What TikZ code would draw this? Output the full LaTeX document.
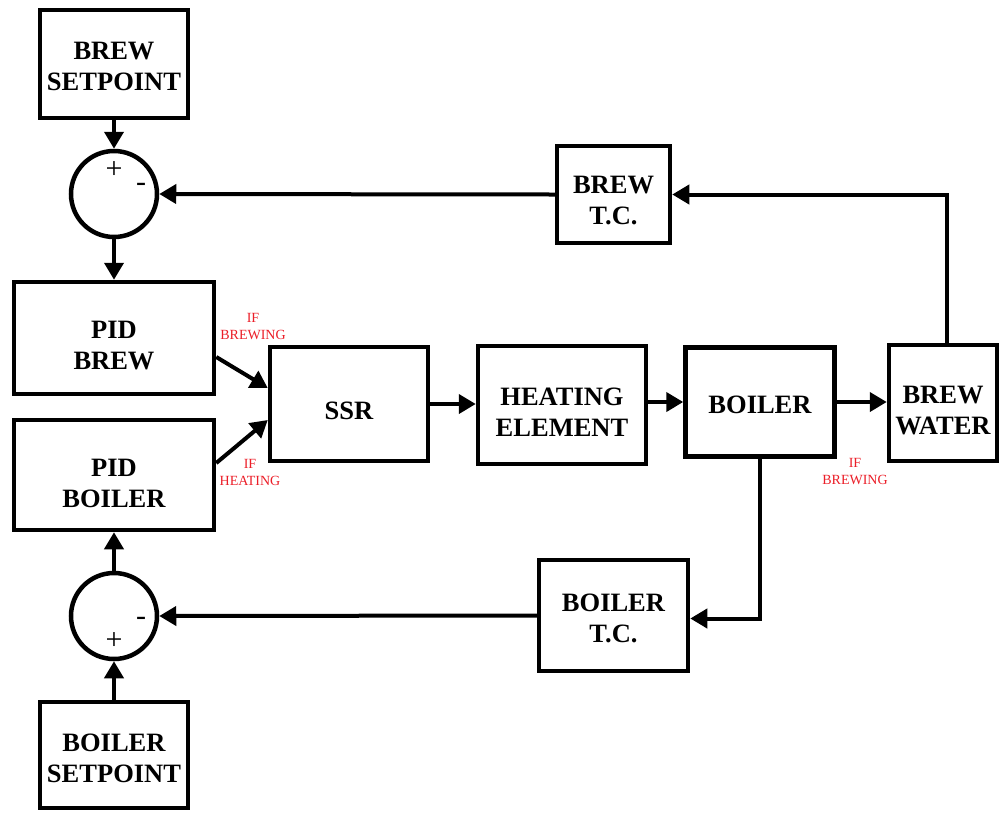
\documentclass[tikz,border=0pt]{standalone}
\usepackage{fontspec}
\setmainfont{Liberation Serif}
\usetikzlibrary{arrows.meta}
\definecolor{lblred}{RGB}{235,30,40}
\begin{document}
\begin{tikzpicture}[x=1pt,y=-1pt,
  blk/.style={draw,line width=4.5pt,rectangle,inner sep=0pt},
  txt/.style={align=center,inner sep=0pt,font=\bfseries\fontsize{26.5}{31}\selectfont},
  sumnode/.style={draw,line width=4.5pt,circle,minimum size=86pt,inner sep=0pt},
  conn/.style={line width=4pt,-{Triangle[length=17pt,width=19pt]}},
  cond/.style={text=lblred,align=center,inner sep=0pt,font=\fontsize{14}{17}\selectfont},
  sign/.style={inner sep=0pt,font=\fontsize{30}{30}\selectfont}]
\useasboundingbox (0,0) rectangle (1000,812);

\node[blk,minimum width=148pt,minimum height=108pt] (bsp) at (114,64) {};
\node[sumnode] (sum1) at (114,194) {};
\node[blk,minimum width=200pt,minimum height=112pt] (pidbrew) at (114,338) {};
\node[blk,minimum width=200pt,minimum height=110pt] (pidboiler) at (114,475) {};
\node[sumnode] (sum2) at (114,616) {};
\node[blk,minimum width=148pt,minimum height=106pt] (blsp) at (114,755) {};
\node[blk,minimum width=158pt,minimum height=114pt] (ssr) at (349,404) {};
\node[blk,minimum width=168pt,minimum height=118pt] (heat) at (562,405) {};
\node[blk,minimum width=149pt,minimum height=109pt] (boiler) at (760,402) {};
\node[blk,minimum width=108pt,minimum height=116pt] (water) at (943,403) {};
\node[blk,minimum width=113pt,minimum height=97pt] (btc) at (613.5,194.5) {};
\node[blk,minimum width=149pt,minimum height=111pt] (bltc) at (613.5,615.5) {};

\node[txt] (tbsp) at ([yshift=-2pt]bsp.center) {BREW\\SETPOINT};
\node[txt] (tpidbrew) at ([yshift=-8pt]pidbrew.center) {PID\\BREW};
\node[txt] (tpidboiler) at ([yshift=-8pt]pidboiler.center) {PID\\BOILER};
\node[txt] (tblsp) at ([yshift=-3pt]blsp.center) {BOILER\\SETPOINT};
\node[txt] (tssr) at ([yshift=-7pt]ssr.center) {SSR};
\node[txt] (theat) at ([yshift=-7pt]heat.center) {HEATING\\ELEMENT};
\node[txt] (tboiler) at ([yshift=-3pt]boiler.center) {BOILER};
\node[txt] (twater) at ([yshift=-8pt]water.center) {BREW\\WATER};
\node[txt] (tbtc) at ([yshift=-6pt]btc.center) {BREW\\T.C.};
\node[txt] (tbltc) at ([yshift=-3pt]bltc.center) {BOILER\\T.C.};

\node[sign] (p1) at (114,170) {+};
\node[sign] (m1) at (141,187) {-};
\node[sign] (m2) at (141,621) {-};
\node[sign] (p2) at (114,641) {+};

\node[cond] (c1) at (253,327) {IF\\BREWING};
\node[cond] (c2) at (250,472) {IF\\HEATING};
\node[cond] (c3) at (855,472) {IF\\BREWING};

\draw[conn] (bsp.south) -- (sum1.north);
\draw[conn] (sum1.south) -- (pidbrew.north);
\draw[conn] (btc.west) -- (sum1.east);
\draw[conn] ([xshift=4pt]water.north) |- (btc.east);
\draw[conn] ([yshift=-19pt]pidbrew.east) -- ([yshift=16pt]ssr.west);
\draw[conn] ([yshift=12pt]pidboiler.east) -- ([yshift=-16pt]ssr.west);
\draw[conn] (ssr.east) -- (ssr.east -| heat.west);
\draw[conn] (heat.east |- boiler) -- (boiler.west);
\draw[conn] (boiler.east) -- (boiler.east -| water.west);
\draw[conn] (boiler.south) |- ([yshift=-3pt]bltc.east);
\draw[conn] (bltc.west) -- (sum2.east);
\draw[conn] (sum2.north) -- (pidboiler.south);
\draw[conn] (blsp.north) -- (sum2.south);
\end{tikzpicture}
\end{document}
